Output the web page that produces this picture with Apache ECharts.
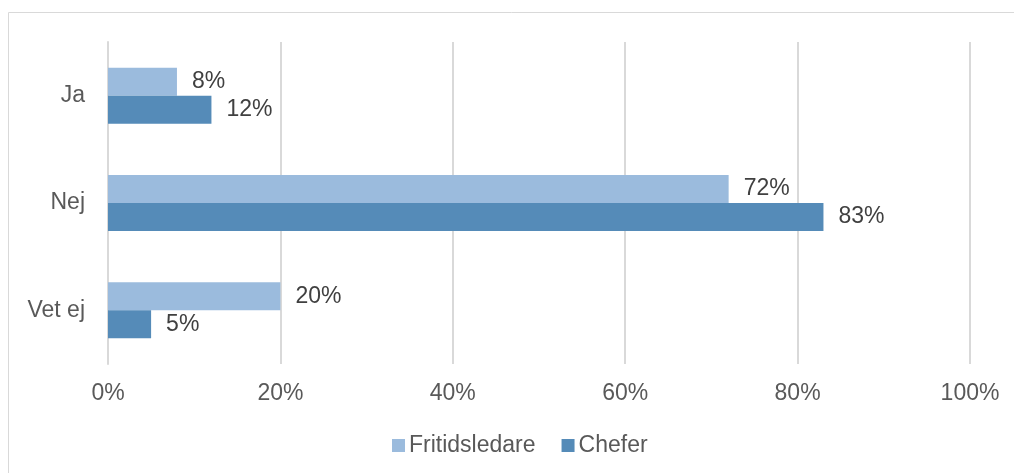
<!DOCTYPE html>
<html>
<head>
<meta charset="utf-8">
<script src="https://cdn.jsdelivr.net/npm/echarts@6/dist/echarts.min.js"></script>
<style>
  html, body { margin: 0; padding: 0; background: #fff; }
  #chart { width: 1014px; height: 473px; }
</style>
</head>
<body>
<div id="chart"></div>
<script>
// Answer categories, top to bottom
const categories = ['Ja', 'Nej', 'Vet ej'];
// Share of respondents per group (%)
const fritidsledare = [8, 72, 20];
const chefer = [12, 83, 5];
const xTicks = [0, 20, 40, 60, 80, 100];

const chart = echarts.init(document.getElementById('chart'));
const font = '"Liberation Sans", Arial, sans-serif';

const valueLabel = {
  show: true,
  position: 'right',
  distance: 15,
  formatter: p => p.value + '%',
  fontSize: 23,
  color: '#404040',
  fontFamily: font
};

chart.setOption({
  animation: false,
  textStyle: { fontFamily: font },
  graphic: [{
    type: 'rect',
    shape: { x: 8.5, y: 12.5, width: 1010, height: 470 },
    style: { fill: 'none', stroke: '#d9d9d9', lineWidth: 1 },
    silent: true
  }],
  grid: { left: 108, right: 44, top: 42, bottom: 109, containLabel: false },
  legend: {
    top: 429,
    left: 387,
    itemWidth: 13,
    itemHeight: 13,
    itemGap: 26,
    icon: 'rect',
    textStyle: { fontSize: 23, color: '#595959', fontFamily: font, padding: [0, 0, 0, -1] },
    data: ['Fritidsledare', 'Chefer']
  },
  xAxis: {
    type: 'value',
    min: xTicks[0],
    max: xTicks[xTicks.length - 1],
    interval: xTicks[1] - xTicks[0],
    axisLine: { show: false },
    axisTick: { show: false },
    splitLine: { lineStyle: { color: '#d9d9d9', width: 2 } },
    axisLabel: {
      formatter: v => v + '%',
      fontSize: 23,
      color: '#595959',
      margin: 18,
      fontFamily: font
    }
  },
  yAxis: {
    type: 'category',
    data: categories,
    inverse: true,
    axisLine: { show: true, lineStyle: { color: '#d9d9d9', width: 2 } },
    axisTick: { show: false },
    axisLabel: { fontSize: 23, color: '#595959', margin: 23, fontFamily: font }
  },
  series: [
    {
      name: 'Fritidsledare',
      type: 'bar',
      data: fritidsledare,
      barWidth: 28,
      barGap: '0%',
      itemStyle: { color: '#9bbbdd' },
      label: valueLabel
    },
    {
      name: 'Chefer',
      type: 'bar',
      data: chefer,
      barWidth: 28,
      barGap: '0%',
      itemStyle: { color: '#558bb8' },
      label: valueLabel
    }
  ]
});
</script>
</body>
</html>
